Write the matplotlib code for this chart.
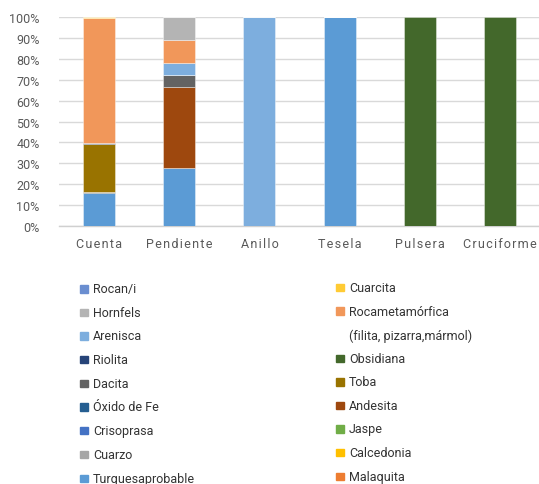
import matplotlib
matplotlib.use("Agg")
import matplotlib.pyplot as plt
import numpy as np

plt.rcParams['font.family'] = ['Roboto', 'DejaVu Sans']

categories = ["Cuenta", "Pendiente", "Anillo", "Tesela", "Pulsera", "Cruciforme"]

# stacked series (bottom -> top), values in percent per category
turquesa   = [15.6, 27.8, 0, 100, 0, 0]
dacita     = [0.7, 0, 0, 0, 0, 0]
andesita   = [0, 38.9, 0, 0, 0, 0]
dacita2    = [0, 5.6, 0, 0, 0, 0]
toba       = [22.9, 0, 0, 0, 0, 0]
riolita    = [0.4, 0, 0, 0, 0, 0]
arenisca   = [0, 5.6, 100, 0, 0, 0]
roca_meta  = [59.8, 11.1, 0, 0, 0, 0]
hornfels   = [0, 11.1, 0, 0, 0, 0]
cuarcita   = [0.6, 0, 0, 0, 0, 0]
obsidiana  = [0, 0, 0, 0, 100, 100]

colors = {
    "Rocan/i": "#6A8ED0", "Hornfels": "#B4B4B4", "Arenisca": "#7DAEDE",
    "Riolita": "#264478", "Dacita": "#636363", "Óxido de Fe": "#255E91",
    "Crisoprasa": "#4472C4", "Cuarzo": "#A5A5A5", "Turquesaprobable": "#5B9BD5",
    "Cuarcita": "#FFCB34", "Rocametamórfica": "#F1975A", "Obsidiana": "#43682B",
    "Toba": "#997300", "Andesita": "#9E480E", "Jaspe": "#70AD47",
    "Calcedonia": "#FFC000", "Malaquita": "#ED7D31",
}

stack = [("Turquesaprobable", turquesa), ("Dacita", dacita), ("Andesita", andesita),
         ("Dacita", dacita2), ("Toba", toba), ("Riolita", riolita),
         ("Arenisca", arenisca), ("Rocametamórfica", roca_meta),
         ("Hornfels", hornfels), ("Cuarcita", cuarcita), ("Obsidiana", obsidiana)]

legend_left = ["Rocan/i", "Hornfels", "Arenisca", "Riolita", "Dacita",
               "Óxido de Fe", "Crisoprasa", "Cuarzo", "Turquesaprobable"]
legend_right = ["Cuarcita", "Rocametamórfica", None, "Obsidiana", "Toba",
                "Andesita", "Jaspe", "Calcedonia", "Malaquita"]

W, H = 539, 485
fig = plt.figure(figsize=(W / 100, H / 100), dpi=100)
ax = fig.add_axes([59 / W, 1 - 227 / H, (540 - 59) / W, (227 - 18) / H])

x = np.arange(len(categories))
bottom = np.zeros(len(categories))
for name, vals in stack:
    v = np.array(vals, dtype=float)
    ax.bar(x, v, 0.4, bottom=bottom, color=colors[name],
           edgecolor=(1, 1, 1, 0.45), linewidth=0.6, zorder=3)
    bottom += v

ax.set_xlim(-0.5, len(categories) - 0.5)
ax.set_ylim(0, 100)
yt = np.arange(0, 101, 10)
ax.set_yticks(yt)
ax.set_yticklabels([f"{t}%" for t in yt], fontsize=9, color="#595959")
ax.set_xticks(x)
ax.set_xticklabels(["\u200a".join(c) for c in categories], fontsize=9, color="#595959")
ax.tick_params(axis='y', length=0, pad=14)
ax.tick_params(axis='x', length=0, pad=8)
ax.grid(axis='y', color="#D9D9D9", linewidth=1.0, zorder=0)
ax.set_axisbelow(True)
for s in ["top", "right", "left"]:
    ax.spines[s].set_visible(False)
ax.spines["bottom"].set_color("#D0D0D0")
ax.spines["bottom"].set_linewidth(1.0)

# legend drawn manually in two columns
left_y = [290, 313.5, 337, 360.5, 384.5, 408, 431.5, 455.5, 479.5]
right_y = [288.5, 312, 336, 359.5, 383, 406.5, 430, 453.5, 477.5]
msz = 7.5
fs = 9
tc = "#333333"
for name, yy in zip(legend_left, left_y):
    fig.patches.append(plt.Rectangle((80 / W, 1 - (yy + msz / 2) / H), msz / W, msz / H,
                                     transform=fig.transFigure, color=colors[name]))
    fig.text(93 / W, 1 - yy / H, name, fontsize=fs, color=tc, va="center", ha="left")
for name, yy in zip(legend_right, right_y):
    if name is None:
        fig.text(349 / W, 1 - yy / H, "(filita, pizarra,mármol)", fontsize=fs,
                 color=tc, va="center", ha="left")
        continue
    fig.patches.append(plt.Rectangle((336 / W, 1 - (yy + msz / 2) / H), msz / W, msz / H,
                                     transform=fig.transFigure, color=colors[name]))
    fig.text(349 / W, 1 - yy / H, name, fontsize=fs, color=tc, va="center", ha="left")

fig.savefig("out.png", dpi=100)
